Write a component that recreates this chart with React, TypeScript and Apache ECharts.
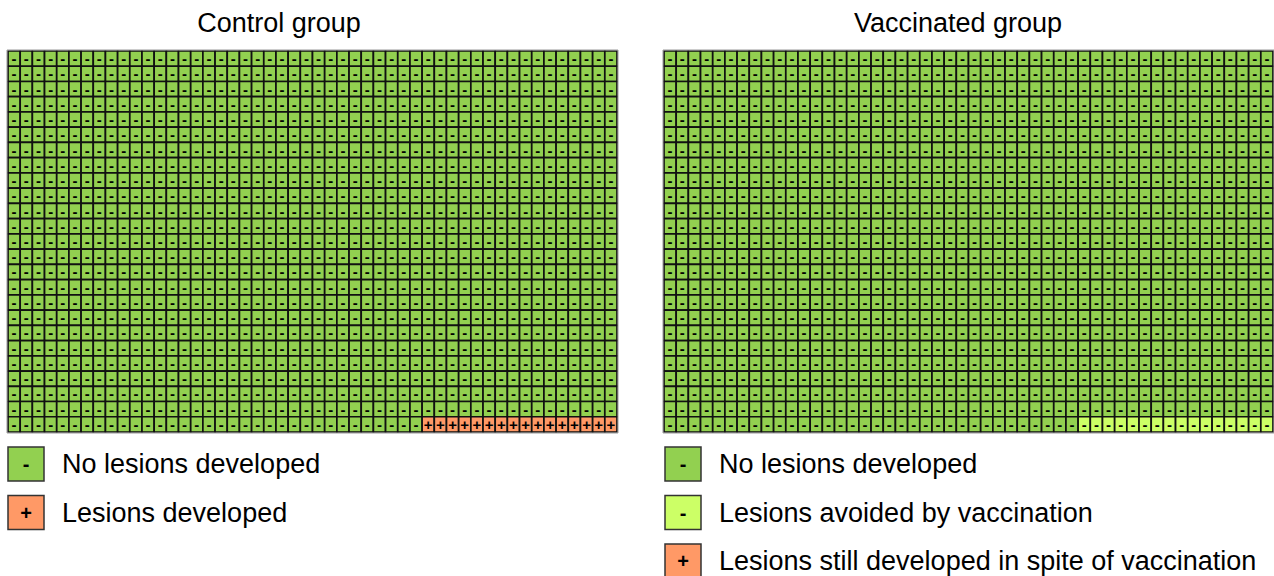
import React, { useEffect, useRef } from "react";
import * as echarts from "echarts";

// ---- data ----
const panelTitles = ["Control group", "Vaccinated group"];
const gridCols = 50;
const gridRows = 25;
// counts per category, listed in fill order (last ones fill the bottom-right end)
const controlKinds = ["none", "lesion"];
const controlCounts = [1234, 16];
const vaccinatedKinds = ["none", "avoided", "lesion"];
const vaccinatedCounts = [1234, 16, 0];

const kindColor: Record<string, string> = {
  none: "#92D050",
  avoided: "#CCFF66",
  lesion: "#FF9966",
};
const kindSymbol: Record<string, string> = {
  none: "-",
  avoided: "-",
  lesion: "+",
};

const controlLegendKinds = ["none", "lesion"];
const controlLegendLabels = ["No lesions developed", "Lesions developed"];
const vaccinatedLegendKinds = ["none", "avoided", "lesion"];
const vaccinatedLegendLabels = [
  "No lesions developed",
  "Lesions avoided by vaccination",
  "Lesions still developed in spite of vaccination",
];

function buildCells(kinds: string[], counts: number[]) {
  const cells: [number, number, number][] = [];
  let idx = 0;
  kinds.forEach((k, ki) => {
    for (let i = 0; i < counts[ki]; i++) {
      const row = Math.floor(idx / gridCols);
      const col = idx % gridCols;
      cells.push([col, row, ki]);
      idx++;
    }
  });
  return cells;
}

const FONT = '"Liberation Sans", Arial, sans-serif';

export default function App() {
  const ref = useRef<HTMLDivElement>(null);
  useEffect(() => {
    if (!ref.current) return;
    const chart = echarts.init(ref.current, null, { renderer: "svg" });

    const panels = [
      { left: 8, titleX: 279, kinds: controlKinds, counts: controlCounts },
      { left: 664, titleX: 958, kinds: vaccinatedKinds, counts: vaccinatedCounts },
    ];
    const gridTop = 51;
    const gridW = 609;
    const gridH = 381;

    const makeRender = (kinds: string[]) => (params: any, api: any) => {
      const col = api.value(0);
      const row = api.value(1);
      const kind = kinds[api.value(2)];
      const p0 = api.coord([col, row]);
      const p1 = api.coord([col + 1, row + 1]);
      const x = Math.min(p0[0], p1[0]);
      const y = Math.min(p0[1], p1[1]);
      const w = Math.abs(p1[0] - p0[0]);
      const h = Math.abs(p1[1] - p0[1]);
      return {
        type: "group",
        children: [
          {
            type: "rect",
            shape: { x, y, width: w, height: h },
            style: { fill: kindColor[kind], stroke: "#111", lineWidth: 1.7 },
          },
          {
            type: "text",
            style: {
              text: kindSymbol[kind],
              x: x + w * 0.5,
              y: y + h / 2,
              align: "center",
              verticalAlign: "middle",
              font: `bold 15px ${FONT}`,
              fill: "#000",
            },
          },
        ],
      };
    };

    const graphics: any[] = [];
    panelTitles.forEach((t, i) => {
      graphics.push({
        type: "text",
        x: panels[i].titleX,
        y: 23,
        style: {
          text: t,
          font: `27px ${FONT}`,
          fill: "#000",
          align: "center",
          verticalAlign: "middle",
        },
      });
      graphics.push({
        type: "rect",
        shape: { x: panels[i].left - 1, y: gridTop - 1, width: gridW + 2, height: gridH + 2 },
        style: { fill: "none", stroke: "#999", lineWidth: 1 },
        z: 10,
      });
    });

    const legends = [
      { x: 8, kinds: controlLegendKinds, labels: controlLegendLabels },
      { x: 665, kinds: vaccinatedLegendKinds, labels: vaccinatedLegendLabels },
    ];
    legends.forEach((lg) => {
      lg.kinds.forEach((k, i) => {
        const cy = 464 + i * 48.5;
        graphics.push({
          type: "rect",
          shape: { x: lg.x, y: cy - 17, width: 36, height: 34 },
          style: { fill: kindColor[k], stroke: "#333", lineWidth: 1.5 },
        });
        graphics.push({
          type: "text",
          x: lg.x + 18,
          y: cy,
          style: {
            text: kindSymbol[k],
            font: `bold 20px ${FONT}`,
            fill: "#000",
            align: "center",
            verticalAlign: "middle",
          },
        });
        graphics.push({
          type: "text",
          x: lg.x + 54,
          y: cy,
          style: {
            text: lg.labels[i],
            font: `27px ${FONT}`,
            fill: "#000",
            align: "left",
            verticalAlign: "middle",
          },
        });
      });
    });

    chart.setOption({
      animation: false,
      grid: panels.map((p) => ({ left: p.left, top: gridTop, width: gridW, height: gridH })),
      xAxis: panels.map((_, i) => ({ type: "value", min: 0, max: gridCols, show: false, gridIndex: i })),
      yAxis: panels.map((_, i) => ({ type: "value", min: 0, max: gridRows, inverse: true, show: false, gridIndex: i })),
      series: panels.map((p, i) => ({
        type: "custom",
        xAxisIndex: i,
        yAxisIndex: i,
        renderItem: makeRender(p.kinds),
        data: buildCells(p.kinds, p.counts),
        silent: true,
      })),
      graphic: graphics,
    });
    return () => chart.dispose();
  }, []);
  return (
    <div
      ref={ref}
      style={{ position: "fixed", left: 0, top: 0, width: 1274, height: 576, background: "#fff" }}
    />
  );
}
